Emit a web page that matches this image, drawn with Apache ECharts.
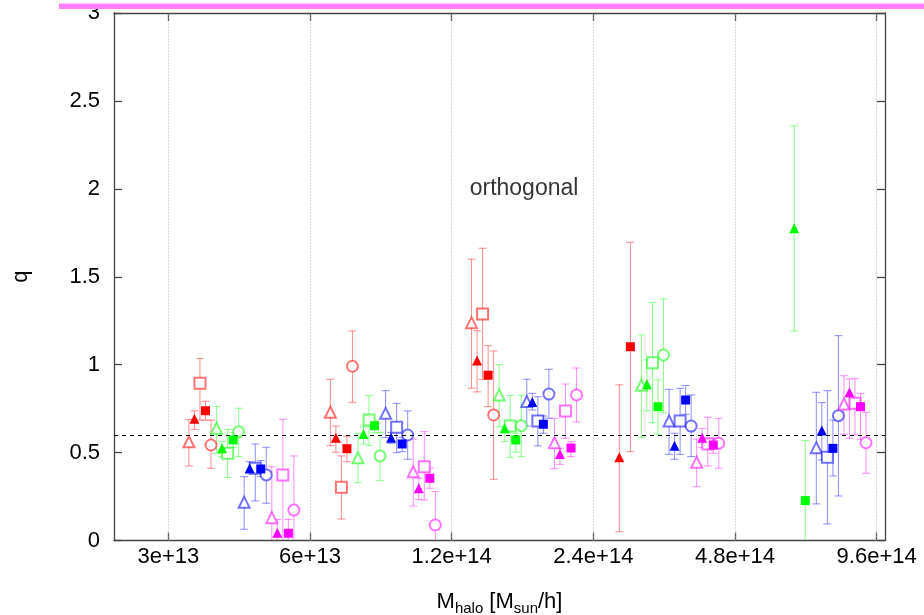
<!DOCTYPE html>
<html>
<head>
<meta charset="utf-8">
<script src="https://cdn.jsdelivr.net/npm/echarts@6/dist/echarts.min.js"></script>
<style>
  html, body { margin: 0; padding: 0; background: #fff; }
  #chart { width: 924px; height: 615px; }
</style>
</head>
<body>
<div id="chart"></div>
<script>
// ---- axis definition -------------------------------------------------------
const tickMasses = [3e13, 6e13, 1.2e14, 2.4e14, 4.8e14, 9.6e14];
const tickLabels = ['3e+13', '6e+13', '1.2e+14', '2.4e+14', '4.8e+14', '9.6e+14'];
const massRange = [2.3e13, 1.0e15];
const qTicks = [0, 3, 0.5];          // min, max, step

// ---- halo mass bins (geometric centres) ---------------------------------
const binCenters = [4.29e13, 8.57e13, 1.71e14, 3.43e14, 7.05e14];

// ---- subsamples: four colours x five marker kinds -------------------------
const sampleColors = ['#ff0000', '#00ff00', '#0000ff', '#ff00ff'];
const markerKinds = ['emptyTriangle', 'triangle', 'emptyRect', 'rect', 'emptyCircle'];

// q per bin (rows) and marker kind (columns); null = no measurement
const qRed = [
  [0.562, 0.693, 0.894, 0.738, 0.543],
  [0.729, 0.585, 0.303, 0.522, 0.991],
  [1.239, 1.023, 1.288, 0.940, 0.714],
  [null, 0.473, null, 1.102, null],
  [null, null, null, null, null]
];
const loRed = [
  [0.424, 0.632, 0.685, 0.684, 0.411],
  [0.539, 0.502, 0.122, 0.448, 0.786],
  [0.866, 0.845, 0.917, 0.761, 0.348],
  [null, 0.050, null, 0.505, null],
  [null, null, null, null, null]
];
const hiRed = [
  [0.689, 0.737, 1.036, 0.792, 0.685],
  [0.917, 0.651, 0.481, 0.594, 1.192],
  [1.600, 1.193, 1.662, 1.108, 1.078],
  [null, 0.885, null, 1.696, null],
  [null, null, null, null, null]
];

const qGreen = [
  [0.638, 0.524, 0.496, 0.572, 0.619],
  [0.471, 0.606, 0.685, 0.653, 0.481],
  [0.828, 0.638, 0.651, 0.572, 0.653],
  [0.883, 0.888, 1.011, 0.761, 1.055],
  [null, 1.776, null, 0.227, null]
];
const loGreen = [
  [0.496, 0.477, 0.359, 0.530, 0.477],
  [0.329, 0.549, 0.539, 0.613, 0.340],
  [0.647, 0.562, 0.473, 0.502, 0.477],
  [0.585, 0.737, 0.670, 0.604, 0.727],
  [null, 1.192, null, -0.120, null]
];
const hiGreen = [
  [0.763, 0.562, 0.632, 0.615, 0.752],
  [0.610, 0.647, 0.824, 0.685, 0.615],
  [1.000, 0.651, 0.824, 0.610, 0.826],
  [1.169, 1.027, 1.353, 0.913, 1.374],
  [null, 2.358, null, 0.568, null]
];

const qBlue = [
  [0.217, 0.411, 0.411, 0.407, 0.373],
  [0.723, 0.585, 0.644, 0.549, 0.600],
  [0.790, 0.788, 0.680, 0.661, 0.833],
  [0.680, 0.539, 0.680, 0.799, 0.651],
  [0.528, 0.625, 0.473, 0.524, 0.710]
];
const loBlue = [
  [0.064, 0.380, 0.225, 0.363, 0.212],
  [0.585, 0.553, 0.499, 0.505, 0.462],
  [0.651, 0.742, 0.538, 0.610, 0.695],
  [0.490, 0.462, 0.490, 0.718, 0.477],
  [0.208, 0.458, 0.094, 0.367, 0.253]
];
const hiBlue = [
  [0.363, 0.448, 0.549, 0.454, 0.530],
  [0.852, 0.615, 0.780, 0.587, 0.737],
  [0.917, 0.837, 0.818, 0.708, 0.974],
  [0.860, 0.610, 0.866, 0.881, 0.828],
  [0.843, 0.784, 0.852, 0.685, 1.165]
];

const qMagenta = [
  [0.130, 0.044, 0.373, 0.041, 0.173],
  [0.391, 0.297, 0.420, 0.354, 0.088],
  [0.556, 0.492, 0.737, 0.526, 0.828],
  [0.445, 0.585, 0.549, 0.543, 0.553],
  [0.776, 0.843, 0.780, 0.761, 0.556]
];
const loMagenta = [
  [-0.200, -0.050, -0.100, -0.050, -0.100],
  [0.196, 0.234, 0.230, 0.297, -0.100],
  [0.408, 0.433, 0.581, 0.477, 0.674],
  [0.306, 0.528, 0.424, 0.496, 0.411],
  [0.604, 0.581, 0.600, 0.576, 0.382]
];
const hiMagenta = [
  [0.420, 0.120, 0.689, 0.120, 0.481],
  [0.577, 0.354, 0.619, 0.411, 0.278],
  [0.695, 0.524, 0.890, 0.562, 0.981],
  [0.577, 0.638, 0.701, 0.581, 0.695],
  [0.937, 0.919, 0.920, 0.837, 0.729]
];

const referenceQ = 0.6;
const panelTitle = 'orthogonal';
const panelTitleAt = [1.71e14, 2.0];

// ---- helpers ---------------------------------------------------------------
const FONT = 'Liberation Sans, Arial, Helvetica, sans-serif';
const dodgeStep = 0.039;   // horizontal spread of the 20 subsamples, in log2 units
const toU = m => Math.log2(m / tickMasses[0]);
const tickU = tickMasses.map(toU);

function fade(hex, a) {
  const n = parseInt(hex.slice(1), 16);
  return `rgba(${(n >> 16) & 255},${(n >> 8) & 255},${n & 255},${a})`;
}

const groups = [
  { q: qRed, lo: loRed, hi: hiRed },
  { q: qGreen, lo: loGreen, hi: hiGreen },
  { q: qBlue, lo: loBlue, hi: hiBlue },
  { q: qMagenta, lo: loMagenta, hi: hiMagenta }
];

const series = [];

// dotted vertical grid at the mass ticks and the dashed reference level
series.push({
  type: 'line', data: [], silent: true, z: 1,
  markLine: {
    silent: true, symbol: ['none', 'none'], label: { show: false }, animation: false,
    data: [
      ...tickU.map(u => ({ xAxis: u, lineStyle: { type: [1, 2], color: '#b0b0b0', width: 1 } })),
      { yAxis: referenceQ, lineStyle: { type: [4, 4], color: '#000', width: 1 } }
    ]
  }
});

groups.forEach((g, c) => {
  const color = sampleColors[c];
  const errData = [];
  markerKinds.forEach((kind, m) => {
    const pts = [];
    binCenters.forEach((center, b) => {
      const q = g.q[b][m];
      if (q === null) return;
      const u = toU(center) + (c * markerKinds.length + m - 9.5) * dodgeStep;
      pts.push([u, q]);
      errData.push([u, g.lo[b][m], g.hi[b][m]]);
    });
    const empty = kind.startsWith('empty');
    series.push({
      type: 'scatter',
      symbol: kind,
      symbolSize: empty ? 11 : (kind === 'rect' ? 9 : 10),
      data: pts,
      z: empty ? 4 : 5,
      silent: true,
      itemStyle: { color: empty ? fade(color, 0.55) : color, borderWidth: empty ? 1.1 : 0, opacity: 1 }
    });
  });
  series.push({
    type: 'custom',
    data: errData,
    z: 3,
    silent: true,
    encode: { x: 0, y: [1, 2] },
    renderItem(params, api) {
      const x = api.coord([api.value(0), 0])[0];
      const yLo = api.coord([api.value(0), api.value(1)])[1];
      const yHi = api.coord([api.value(0), api.value(2)])[1];
      const cs = params.coordSys;
      const bottom = cs.y + cs.height, top = cs.y;
      const stroke = fade(color, 0.45);
      const st = { stroke, lineWidth: 1, fill: null };
      const kids = [{
        type: 'line',
        shape: { x1: x, y1: Math.min(yLo, bottom), x2: x, y2: Math.max(yHi, top) },
        style: st
      }];
      if (yLo <= bottom) kids.push({ type: 'line', shape: { x1: x - 4, y1: yLo, x2: x + 4, y2: yLo }, style: st });
      if (yHi >= top) kids.push({ type: 'line', shape: { x1: x - 4, y1: yHi, x2: x + 4, y2: yHi }, style: st });
      return { type: 'group', children: kids };
    }
  });
});

// panel annotation
series.push({
  type: 'scatter', silent: true, z: 6,
  symbolSize: 1, itemStyle: { color: 'rgba(0,0,0,0)' },
  data: [[toU(panelTitleAt[0]), panelTitleAt[1]]],
  label: { show: true, position: 'inside', formatter: panelTitle, color: '#000', fontSize: 23, fontFamily: FONT }
});

const frame = { show: true, onZero: false, lineStyle: { color: '#444', width: 1.3 } };
const tickStyle = { show: true, inside: true, length: 8, lineStyle: { color: '#444', width: 1.3 } };

const option = {
  animation: false,
  backgroundColor: '#fff',
  grid: { left: 114, right: 39, top: 13, bottom: 74.5, containLabel: false, outerBoundsMode: 'none' },
  xAxis: [
    {
      type: 'value', position: 'bottom',
      min: toU(massRange[0]), max: toU(massRange[1]),
      axisLine: frame,
      axisTick: Object.assign({ customValues: tickU }, tickStyle),
      axisLabel: {
        customValues: tickU, margin: 5, color: '#000', fontSize: 22, fontFamily: FONT,
        formatter: v => tickLabels[Math.round(v)]
      },
      splitLine: { show: false },
      name: '{m|M}{s|halo}{m| [M}{s|sun}{m|/h]}',
      nameLocation: 'middle', nameGap: 46,
      nameTextStyle: {
        color: '#000', fontFamily: FONT,
        rich: {
          m: { fontSize: 22, lineHeight: 30, fontFamily: FONT, color: '#000' },
          s: { fontSize: 15, lineHeight: 14, verticalAlign: 'bottom', fontFamily: FONT, color: '#000' }
        }
      }
    },
    {
      type: 'value', position: 'top',
      min: toU(massRange[0]), max: toU(massRange[1]),
      axisLine: frame,
      axisTick: Object.assign({ customValues: tickU }, tickStyle),
      axisLabel: { show: false },
      splitLine: { show: false }
    }
  ],
  yAxis: [
    {
      type: 'value', position: 'left',
      min: qTicks[0], max: qTicks[1], interval: qTicks[2],
      axisLine: frame, axisTick: tickStyle,
      axisLabel: { margin: 14, color: '#000', fontSize: 22, fontFamily: FONT },
      splitLine: { show: false },
      name: 'q', nameLocation: 'middle', nameRotate: 90, nameGap: 82,
      nameTextStyle: { color: '#000', fontSize: 22, fontFamily: FONT }
    },
    {
      type: 'value', position: 'right',
      min: qTicks[0], max: qTicks[1], interval: qTicks[2],
      axisLine: frame, axisTick: tickStyle,
      axisLabel: { show: false },
      splitLine: { show: false }
    }
  ],
  graphic: [
    { type: 'rect', z: 100, shape: { x: 59, y: 3.5, width: 865, height: 5.5 }, style: { fill: '#ff80ff' } }
  ],
  series
};

const chart = echarts.init(document.getElementById('chart'), null, { renderer: 'canvas' });
chart.setOption(option);
</script>
</body>
</html>
